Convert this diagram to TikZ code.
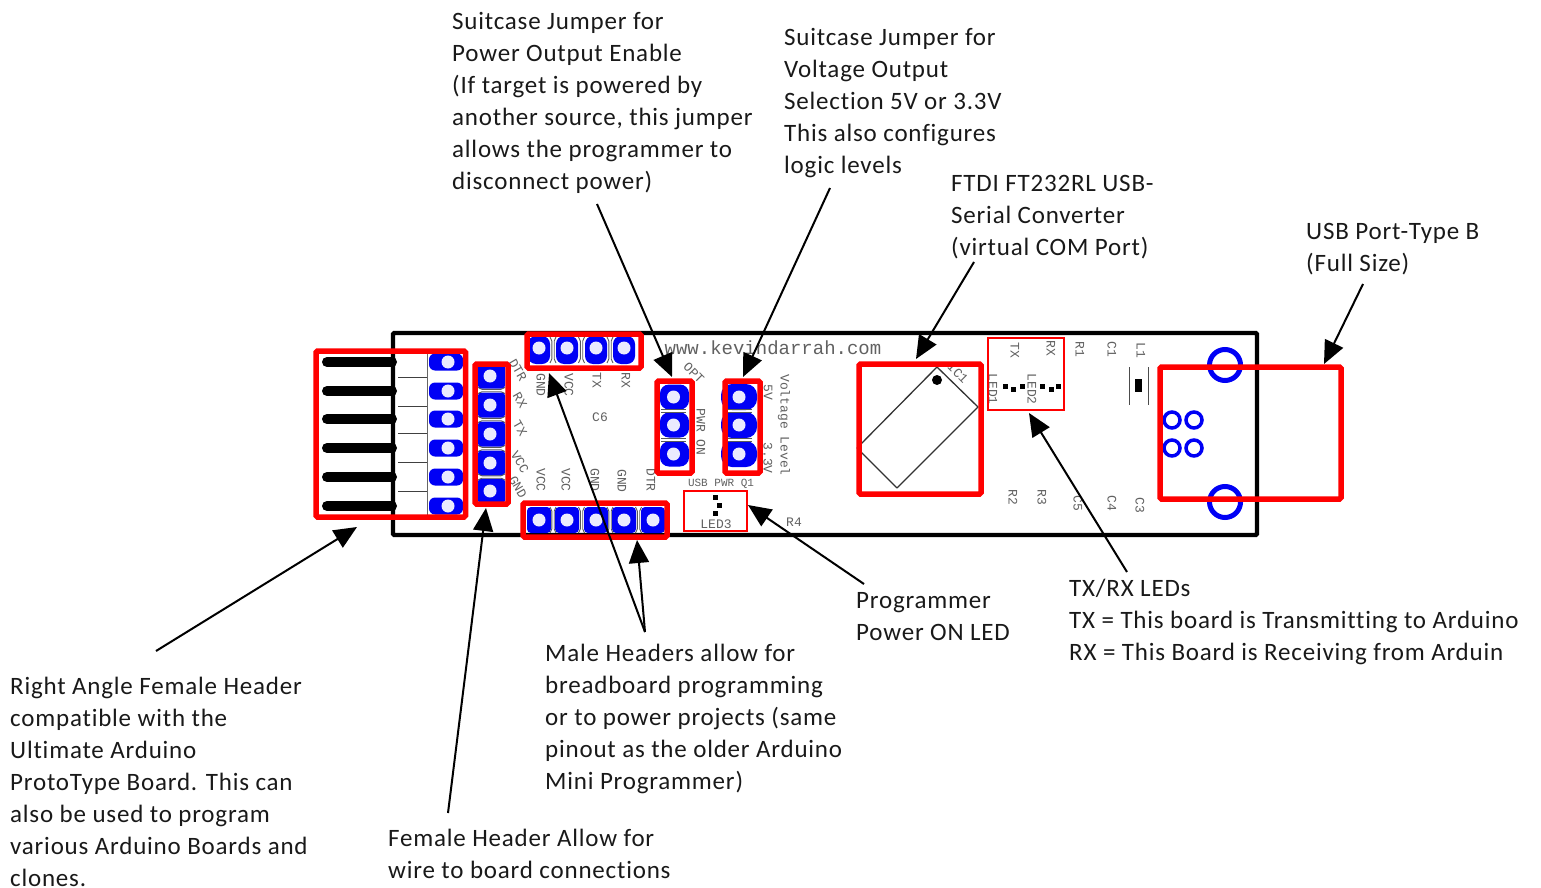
\documentclass[tikz,border=0pt]{standalone}
\usepackage{fontspec}
\setmainfont[LetterSpace=3.2,Ligatures=NoCommon]{Carlito}
\setmonofont{Liberation Mono}
\usetikzlibrary{arrows.meta}
\definecolor{padblue}{RGB}{0,0,245}
\definecolor{boxred}{RGB}{255,0,0}
\tikzset{
  lbl/.style={anchor=north west,inner sep=0pt,align=left,font=\fontsize{25}{32}\selectfont,text=black!90},
  redbox/.style={draw=boxred,line width=5.5pt,rounded corners=1.5pt,inner sep=0pt,fill=none},
  thinbox/.style={draw=boxred,line width=1.6pt,inner sep=0pt,fill=none},
  arr/.style={draw=black,line width=2pt,-{Triangle[length=23pt,width=20pt]},shorten >=0pt},
  bt/.style={inner sep=0pt,text=black!62,font=\ttfamily\fontsize{13}{13}\selectfont},
  btd/.style={bt,rotate=-90},
  pin/.style={line width=10pt,black,line cap=round},
  hole/.style={fill=white!92!padblue},
  gapline/.style={draw=black!65,line width=0.9pt},
}
\begin{document}
\begin{tikzpicture}[x=1pt,y=-1pt]
\useasboundingbox (0,0) rectangle (1541,888);
% board outline
\draw[black,line width=4.2pt,rounded corners=1pt] (393,333) rectangle (1257,535);
% right angle header body
\fill[white] (398,349) rectangle (427,519);
\draw[black!60,line width=0.8pt] (427,349) -- (427,519);
\foreach \y in {377,406,433,462,491} \draw[black!75,line width=0.8pt] (398,\y) -- (427,\y);
\foreach \y in {362,391,419,448,477,506} {
  \draw[pin] (327,\y) -- (392,\y);
  \fill[padblue,rounded corners=6pt] (429,\y-8.5) rectangle (463,\y+8.5);
  \fill[hole] (448,\y) circle (6.5pt);
}
% female header stack
\foreach \y in {376,405,434,463,491} {
  \fill[padblue,rounded corners=3pt] (478,\y-12.5) rectangle (505,\y+12.5);
  \fill[hole] (490,\y) circle (6.5pt);
}
\foreach \y in {390.5,419.5,448.5,477} {
  \draw[gapline] (478,\y-3) -- (482,\y-1.2) -- (501,\y-1.2) -- (505,\y-3);
  \draw[gapline] (478,\y+3) -- (482,\y+1.2) -- (501,\y+1.2) -- (505,\y+3);
}
% top and bottom male headers
\foreach \x in {539,567,596,624} {
  \fill[padblue,rounded corners=8pt] (\x-11,336) rectangle (\x+11,364);
  \fill[hole] (\x,348) circle (6.5pt);
}
\foreach \x in {553,581.5,610} {
  \draw[gapline] (\x-3,337) -- (\x-1.2,341) -- (\x-1.2,359) -- (\x-3,363);
  \draw[gapline] (\x+3,337) -- (\x+1.2,341) -- (\x+1.2,359) -- (\x+3,363);
}
\foreach \x in {539,567,596,624,653} {
  \fill[padblue,rounded corners=4pt] (\x-12,507) rectangle (\x+12,533);
  \fill[hole] (\x,520) circle (6.5pt);
}
\foreach \x in {553,581.5,610,638.5} {
  \draw[gapline] (\x-3,507) -- (\x-1.2,511) -- (\x-1.2,529) -- (\x-3,533);
  \draw[gapline] (\x+3,507) -- (\x+1.2,511) -- (\x+1.2,529) -- (\x+3,533);
}
% jumper stacks
\foreach \y in {397,425,454} {
  \fill[padblue,rounded corners=9pt] (660,\y-12.5) rectangle (689,\y+12.5);
  \fill[hole] (673.5,\y) circle (6.5pt);
  \fill[padblue,rounded corners=11pt] (721,\y-13) rectangle (757,\y+13);
  \fill[hole] (739,\y) circle (6.5pt);
}
\foreach \y in {411,439.5} {
  \draw[gapline] (661,\y-1.5) -- (686,\y-1.5) (661,\y+1.5) -- (686,\y+1.5);
  \draw[gapline] (727,\y-1.5) -- (752,\y-1.5) (727,\y+1.5) -- (752,\y+1.5);
}
% IC package
\draw[black!80,line width=1.3pt,line join=round] (937,367) -- (978,407) -- (897,488) -- (857,448) -- cycle;
\fill[black] (937,380) circle (5pt);
% LEDs and inductor
\foreach \x/\y in {1005/386,1013/389,1022/386,1042/386,1051/389,1058/386,715/497,719/505,715/513}
  \fill[black] (\x-2.5,\y-2.5) rectangle (\x+2.5,\y+2.5);
\draw[black!70,line width=1pt] (1129,367) -- (1129,405) (1148,367) -- (1148,405);
\fill[black] (1135,379) rectangle (1142,392);
% USB connector holes
\draw[padblue,line width=5pt] (1225,365) circle (15.5pt);
\draw[padblue,line width=5pt] (1225,502) circle (15.5pt);
\foreach \x in {1172,1194} \foreach \y in {420,448}
  \draw[padblue,line width=3.5pt] (\x,\y) circle (8pt);
% silkscreen text
\node[bt,font=\ttfamily\fontsize{19}{19}\selectfont] (web) at (773,348) {www.kevindarrah.com};
\node[btd] (sGND) at (541,385) {GND};
\node[btd] (sVCC) at (569,385) {VCC};
\node[btd] (sTX) at (597,380) {TX};
\node[btd] (sRX) at (626,380) {RX};
\node[bt,rotate=-60] (sDTR) at (518,370) {DTR};
\node[bt,rotate=-60] (sRXb) at (520,400) {RX};
\node[bt,rotate=-60] (sTXb) at (520,428) {TX};
\node[bt,rotate=-60] (sVCCb) at (520,462) {VCC};
\node[bt,rotate=-60] (sGNDb) at (518,487) {GND};
\node[bt] (sC6) at (600,417) {C6};
\node[btd] (b1) at (541,480) {VCC};
\node[btd] (b2) at (566,480) {VCC};
\node[btd] (b3) at (595,480) {GND};
\node[btd] (b4) at (622,481) {GND};
\node[btd] (b5) at (651,480) {DTR};
\node[bt,rotate=-45] (sOPT) at (694,373) {OPT};
\node[btd] (sPWR) at (701,432) {PWR ON};
\node[btd] (s5V) at (768,392) {5V};
\node[btd] (s33V) at (768,458) {3.3V};
\node[btd] (sVL) at (784,425) {Voltage Level};
\node[bt,font=\ttfamily\fontsize{11}{11}\selectfont] (sUSB) at (721,484) {USB PWR Q1};
\node[bt] (sLED3) at (716,524) {LED3};
\node[bt] (sR4) at (794,522) {R4};
\node[bt,rotate=-45] (sIC1) at (958,373) {IC1};
\node[btd] (sTXc) at (1015,350) {TX};
\node[btd] (sRXc) at (1051,348) {RX};
\node[btd] (sLED1) at (993,389) {LED1};
\node[btd] (sLED2) at (1032,389) {LED2};
\node[btd] (sR1) at (1080,349) {R1};
\node[btd] (sC1) at (1112,349) {C1};
\node[btd] (sL1) at (1141,350) {L1};
\node[btd] (sR2) at (1013,497) {R2};
\node[btd] (sR3) at (1042,497) {R3};
\node[btd] (sC5) at (1078,503) {C5};
\node[btd] (sC4) at (1112,503) {C4};
\node[btd] (sC3) at (1140,505) {C3};
% red boxes
\node[redbox,minimum width=149.5pt,minimum height=166pt] (bHdr) at (390.75,434) {};
\node[redbox,minimum width=33pt,minimum height=140pt] (bFem) at (491.5,434) {};
\node[redbox,minimum width=114pt,minimum height=34pt] (bTop) at (584,351) {};
\node[redbox,minimum width=144pt,minimum height=34pt] (bBot) at (595,520) {};
\node[redbox,minimum width=35pt,minimum height=92pt] (bPwr) at (674.5,427) {};
\node[redbox,minimum width=35pt,minimum height=92pt] (bVolt) at (742.5,427) {};
\node[redbox,minimum width=122pt,minimum height=130pt] (bIC) at (920,429) {};
\node[redbox,minimum width=181pt,minimum height=132pt] (bUSB) at (1250.5,433) {};
\node[thinbox,minimum width=63pt,minimum height=40pt] (bLED3) at (715.5,511) {};
\node[thinbox,minimum width=76pt,minimum height=72pt] (bLED) at (1026,374) {};
% labels
\node[lbl] (tPwr) at (452,12) {Suitcase Jumper for\\Power Output Enable\\(If target is powered by\\another source, this jumper\\allows the programmer to\\disconnect power)};
\node[lbl] (tVolt) at (784,28) {Suitcase Jumper for\\Voltage Output\\Selection 5V or 3.3V\\This also configures\\logic levels};
\node[lbl] (tFTDI) at (951,175.5) {FTDI FT232RL USB-\\Serial Converter\\(virtual COM Port)};
\node[lbl] (tUSB) at (1306,223.5) {USB Port-Type B\\(Full Size)};
\node[lbl] (tLED) at (1069,579) {TX/RX LEDs\\TX = This board is Transmitting to Arduino\\RX = This Board is Receiving from Arduin};
\node[lbl] (tOn) at (856,592.5) {Programmer\\Power ON LED};
\node[lbl] (tMale) at (545,644) {Male Headers allow for\\breadboard programming\\or to power projects (same\\pinout as the older Arduino\\Mini Programmer)};
\node[lbl] (tRight) at (10,677) {Right Angle Female Header\\compatible with the\\Ultimate Arduino\\ProtoType Board.  This can\\also be used to program\\various Arduino Boards and\\clones.};
\node[lbl] (tFem) at (388,829) {Female Header Allow for\\wire to board connections};
% connector ends
\coordinate (cPwrS) at (597,204);
\coordinate (cPwrE) at (672,377);
\coordinate (cVoltS) at (830,188);
\coordinate (cVoltE) at (743,377);
\coordinate (cIcS) at (974,262);
\coordinate (cIcE) at (916,359);
\coordinate (cUsbS) at (1363,284);
\coordinate (cUsbE) at (1324,364);
\coordinate (cLedS) at (1127,572);
\coordinate (cLedE) at (1029,413);
\coordinate (cOnS) at (864,584);
\coordinate (cOnE) at (748,505);
\coordinate (cMaleS) at (645,632);
\coordinate (cTopE) at (549,373);
\coordinate (cBotE) at (637,540);
\coordinate (cFemS) at (448,813);
\coordinate (cFemE) at (486,508);
\coordinate (cHdrS) at (156,651);
\coordinate (cHdrE) at (357,527);
\draw[arr] (cPwrS) -- (cPwrE);
\draw[arr] (cVoltS) -- (cVoltE);
\draw[arr] (cIcS) -- (cIcE);
\draw[arr] (cUsbS) -- (cUsbE);
\draw[arr] (cLedS) -- (cLedE);
\draw[arr] (cOnS) -- (cOnE);
\draw[arr] (cMaleS) -- (cTopE);
\draw[arr] (cMaleS) -- (cBotE);
\draw[arr] (cFemS) -- (cFemE);
\draw[arr] (cHdrS) -- (cHdrE);
\end{tikzpicture}
\end{document}
